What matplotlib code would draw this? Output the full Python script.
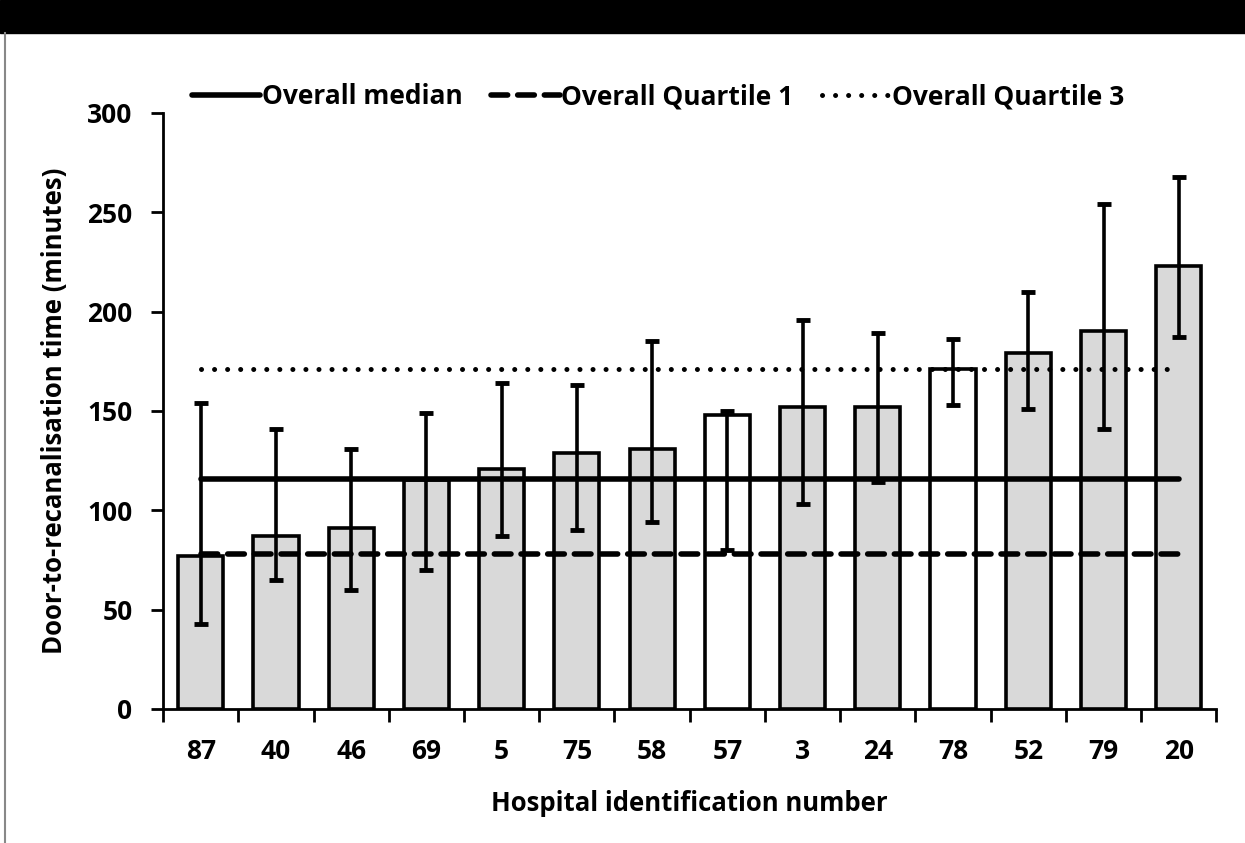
import matplotlib.pyplot as plt
from matplotlib.lines import Line2D
from matplotlib.patches import Rectangle
import numpy as np

plt.rcParams['font.family'] = ['Open Sans', 'DejaVu Sans']
plt.rcParams['font.weight'] = 'bold'

# Data
hospital_ids = ['87', '40', '46', '69', '5', '75', '58', '57', '3', '24', '78', '52', '79', '20']
median_time = [77, 87, 91, 115, 121, 129, 131, 148, 152, 152, 171, 179, 190, 223]
quartile_1 = [43, 65, 60, 70, 87, 90, 94, 80, 103, 114, 153, 151, 141, 187]
quartile_3 = [154, 141, 131, 149, 164, 163, 185, 150, 196, 189, 186, 210, 254, 268]
white_bars = ['57', '78']

overall_median = 116
overall_q1 = 78
overall_q3 = 171

x = np.arange(len(hospital_ids))
colors = ['white' if h in white_bars else '#d9d9d9' for h in hospital_ids]
lower = np.array(median_time) - np.array(quartile_1)
upper = np.array(quartile_3) - np.array(median_time)

fig = plt.figure(figsize=(12.45, 8.43), dpi=100)
ax = fig.add_axes([0.131, 0.159, 0.846, 0.707])

ax.bar(x, median_time, width=0.6, color=colors, edgecolor='black', linewidth=2.6, zorder=2)
ax.errorbar(x, median_time, yerr=[lower, upper], fmt='none', ecolor='black',
            elinewidth=2.6, capsize=5, capthick=3.5, zorder=4)

ax.plot([x[0], x[-1]], [overall_median] * 2, color='black', lw=4,
        solid_capstyle='round', zorder=3, label='Overall median')
ax.plot([x[0], x[-1]], [overall_q1] * 2, color='black', lw=4, ls=(0, (3, 1.8)),
        dash_capstyle='round', zorder=3, label='Overall Quartile 1')
ax.plot([x[0], x[-1]], [overall_q3] * 2, color='black', lw=3.6, ls=(0, (0.01, 2.6)),
        dash_capstyle='round', zorder=3, label='Overall Quartile 3')

ax.set_xlim(-0.5, len(x) - 0.5)
ax.set_ylim(0, 300)
ax.set_yticks(range(0, 301, 50))
ax.set_xticks(x)
ax.set_xticklabels(hospital_ids)
ax.set_xticks(np.arange(-0.5, len(x), 1), minor=True)
ax.tick_params(axis='x', which='major', length=0, pad=21, labelsize=19)
ax.tick_params(axis='x', which='minor', length=9, width=2, direction='out')
ax.tick_params(axis='y', length=9, width=2, direction='out', pad=13, labelsize=19)

for s in ['top', 'right']:
    ax.spines[s].set_visible(False)
for s in ['left', 'bottom']:
    ax.spines[s].set_linewidth(2)

ax.set_xlabel('Hospital identification number', fontsize=18.5, fontweight='bold', labelpad=18)
ax.set_ylabel('Door-to-recanalisation time (minutes)', fontsize=18.5, fontweight='bold', labelpad=14)

leg = ax.legend(loc='lower center', bbox_to_anchor=(0.47, 0.965), ncol=3, frameon=False,
                handlelength=2.6, handletextpad=0.05, columnspacing=1.1,
                prop={'weight': 'bold', 'size': 19})

# frame decorations
fig.patches.append(Rectangle((0, 1 - 33 / 843), 1, 33 / 843, transform=fig.transFigure,
                             color='black', zorder=0))
fig.lines.append(Line2D([5 / 1245, 5 / 1245], [0, 1 - 33 / 843], transform=fig.transFigure,
                        color='#888888', lw=1.5))

fig.savefig('out.png', dpi=100)
plt.close(fig)
